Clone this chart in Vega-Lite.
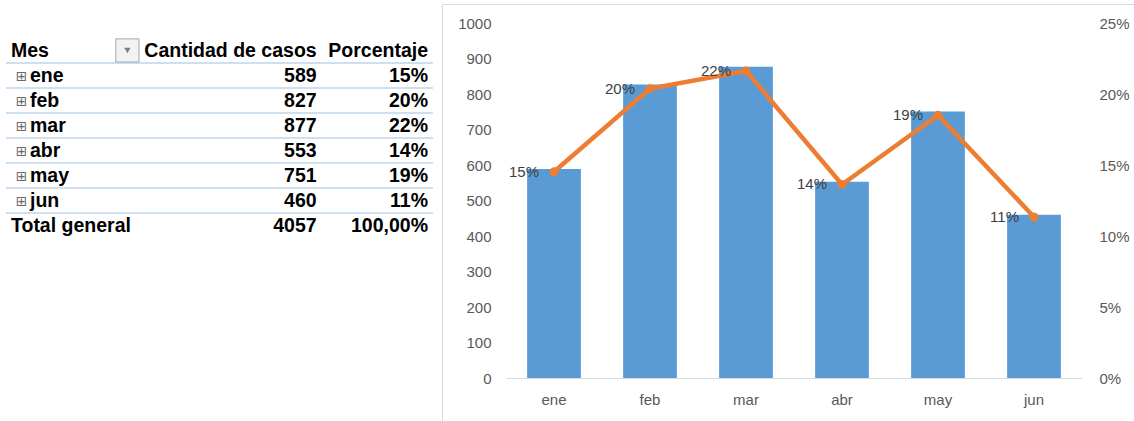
{
  "$schema": "https://vega.github.io/schema/vega-lite/v6.json",
  "padding": {"left": 5, "top": 3, "right": 0, "bottom": 0},
  "spacing": 9,
  "bounds": "flush",
  "background": "white",
  "config": {
    "font": "Liberation Sans",
    "axis": {"grid": false, "labelFont": "Liberation Sans", "labelFontSize": 15, "labelColor": "#595959"}
  },
  "datasets": {
    "meses": [
      {"Mes": "ene", "casos": 589, "pct": 0.1452},
      {"Mes": "feb", "casos": 827, "pct": 0.2038},
      {"Mes": "mar", "casos": 877, "pct": 0.2162},
      {"Mes": "abr", "casos": 553, "pct": 0.1363},
      {"Mes": "may", "casos": 751, "pct": 0.1851},
      {"Mes": "jun", "casos": 460, "pct": 0.1134}
    ],
    "tabla": [
      {"fila": "Mes", "col": "Mes", "texto": "Mes"},
      {"fila": "Mes", "col": "Cantidad de casos", "texto": "Cantidad de casos"},
      {"fila": "Mes", "col": "Porcentaje", "texto": "Porcentaje"},
      {"fila": "ene", "col": "Mes", "texto": "ene"},
      {"fila": "ene", "col": "Cantidad de casos", "texto": "589"},
      {"fila": "ene", "col": "Porcentaje", "texto": "15%"},
      {"fila": "feb", "col": "Mes", "texto": "feb"},
      {"fila": "feb", "col": "Cantidad de casos", "texto": "827"},
      {"fila": "feb", "col": "Porcentaje", "texto": "20%"},
      {"fila": "mar", "col": "Mes", "texto": "mar"},
      {"fila": "mar", "col": "Cantidad de casos", "texto": "877"},
      {"fila": "mar", "col": "Porcentaje", "texto": "22%"},
      {"fila": "abr", "col": "Mes", "texto": "abr"},
      {"fila": "abr", "col": "Cantidad de casos", "texto": "553"},
      {"fila": "abr", "col": "Porcentaje", "texto": "14%"},
      {"fila": "may", "col": "Mes", "texto": "may"},
      {"fila": "may", "col": "Cantidad de casos", "texto": "751"},
      {"fila": "may", "col": "Porcentaje", "texto": "19%"},
      {"fila": "jun", "col": "Mes", "texto": "jun"},
      {"fila": "jun", "col": "Cantidad de casos", "texto": "460"},
      {"fila": "jun", "col": "Porcentaje", "texto": "11%"},
      {"fila": "Total general", "col": "Mes", "texto": "Total general"},
      {"fila": "Total general", "col": "Cantidad de casos", "texto": "4057"},
      {"fila": "Total general", "col": "Porcentaje", "texto": "100,00%"}
    ]
  },
  "hconcat": [
    {
      "width": 427,
      "height": 234,
      "view": {"stroke": null},
      "data": {"name": "tabla"},
      "encoding": {
        "y": {
          "field": "fila", "type": "nominal",
          "scale": {"type": "band", "domain": ["Mes", "ene", "feb", "mar", "abr", "may", "jun", "Total general"], "paddingInner": 0, "paddingOuter": 0.68, "align": 1},
          "axis": null
        }
      },
      "layer": [
        {
          "transform": [{"filter": "datum.col == 'Mes' && datum.fila != 'Total general'"}],
          "mark": {"type": "rule", "color": "#9BC2E6", "strokeWidth": 1.2},
          "encoding": {"y": {"field": "fila", "type": "nominal", "bandPosition": 1}}
        },
        {
          "transform": [{"filter": "datum.col == 'Mes' && (datum.fila == 'Mes' || datum.fila == 'Total general')"}],
          "mark": {"type": "text", "align": "left", "baseline": "middle", "dx": 5, "fontSize": 19.5, "fontWeight": "bold", "color": "#000000"},
          "encoding": {
            "x": {"field": "col", "type": "nominal", "scale": {"type": "band", "domain": ["Mes", "Cantidad de casos", "Porcentaje"], "paddingInner": 0, "paddingOuter": 0}, "axis": null, "bandPosition": 0},
            "text": {"field": "texto"}
          }
        },
        {
          "transform": [{"filter": "datum.col == 'Mes' && datum.fila != 'Mes' && datum.fila != 'Total general'"}],
          "mark": {"type": "text", "align": "left", "baseline": "middle", "dx": 24, "fontSize": 19.5, "fontWeight": "bold", "color": "#000000"},
          "encoding": {
            "x": {"field": "col", "type": "nominal", "axis": null, "bandPosition": 0},
            "text": {"field": "texto"}
          }
        },
        {
          "transform": [{"filter": "datum.col == 'Mes' && datum.fila != 'Mes' && datum.fila != 'Total general'"}],
          "mark": {"type": "text", "align": "center", "baseline": "middle", "dy": 1, "fontSize": 14, "font": "DejaVu Sans", "color": "#6b6b6b"},
          "encoding": {
            "x": {"field": "col", "type": "nominal", "axis": null, "bandPosition": 0.109},
            "text": {"value": "⊞"}
          }
        },
        {
          "transform": [{"filter": "datum.col == 'Mes' && datum.fila == 'Mes'"}],
          "mark": {"type": "point", "shape": "square", "size": 540, "filled": true, "fill": "#f2f2f2", "stroke": "#a6a6a6", "strokeWidth": 1, "opacity": 1},
          "encoding": {
            "x": {"field": "col", "type": "nominal", "axis": null, "bandPosition": 0.853}
          }
        },
        {
          "transform": [{"filter": "datum.col == 'Mes' && datum.fila == 'Mes'"}],
          "mark": {"type": "point", "shape": "triangle-down", "size": 40, "filled": true, "color": "#7f7f7f", "opacity": 1},
          "encoding": {
            "x": {"field": "col", "type": "nominal", "axis": null, "bandPosition": 0.853}
          }
        },
        {
          "transform": [{"filter": "datum.col == 'Cantidad de casos'"}],
          "mark": {"type": "text", "align": "right", "baseline": "middle", "dx": 26, "fontSize": 19.5, "fontWeight": "bold", "color": "#000000"},
          "encoding": {
            "x": {"field": "col", "type": "nominal", "axis": null, "bandPosition": 1},
            "text": {"field": "texto"}
          }
        },
        {
          "transform": [{"filter": "datum.col == 'Porcentaje'"}],
          "mark": {"type": "text", "align": "right", "baseline": "middle", "dx": -5, "fontSize": 19.5, "fontWeight": "bold", "color": "#000000"},
          "encoding": {
            "x": {"field": "col", "type": "nominal", "axis": null, "bandPosition": 1},
            "text": {"field": "texto"}
          }
        }
      ]
    },
    {
      "width": 692,
      "height": 417,
      "view": {"stroke": "#d9d9d9"},
      "data": {"name": "meses"},
      "encoding": {
        "x": {
          "field": "Mes", "type": "nominal", "sort": null,
          "scale": {"type": "band", "range": [64, 640], "paddingInner": 0.44, "paddingOuter": 0.22},
          "axis": {"orient": "bottom", "offset": -43, "title": null, "ticks": false, "domainColor": "#d9d9d9", "labelPadding": 14, "labelAngle": 0}
        }
      },
      "layer": [
        {
          "mark": {"type": "bar", "color": "#5B9BD5"},
          "encoding": {
            "y": {
              "field": "casos", "type": "quantitative",
              "scale": {"domain": [0, 1000], "range": [374, 19]},
              "axis": {"orient": "left", "offset": -64, "values": [0, 100, 200, 300, 400, 500, 600, 700, 800, 900, 1000], "format": "d", "domain": false, "ticks": false, "labelPadding": 15, "title": null}
            }
          }
        },
        {
          "encoding": {
            "y": {
              "field": "pct", "type": "quantitative",
              "scale": {"domain": [0, 0.25], "range": [374, 19]},
              "axis": {"orient": "right", "offset": -52, "values": [0, 0.05, 0.1, 0.15, 0.2, 0.25], "format": ".0%", "domain": false, "ticks": false, "labelPadding": 17, "title": null}
            }
          },
          "layer": [
            {"mark": {"type": "line", "color": "#ED7D31", "strokeWidth": 4.5}},
            {"mark": {"type": "point", "shape": "circle", "filled": true, "size": 80, "color": "#ED7D31", "opacity": 1}},
            {
              "mark": {"type": "text", "align": "right", "baseline": "middle", "dx": -15, "fontSize": 15, "color": "#404040"},
              "encoding": {"text": {"field": "pct", "type": "quantitative", "format": ".0%"}}
            }
          ]
        }
      ],
      "resolve": {"scale": {"y": "independent"}}
    }
  ]
}
